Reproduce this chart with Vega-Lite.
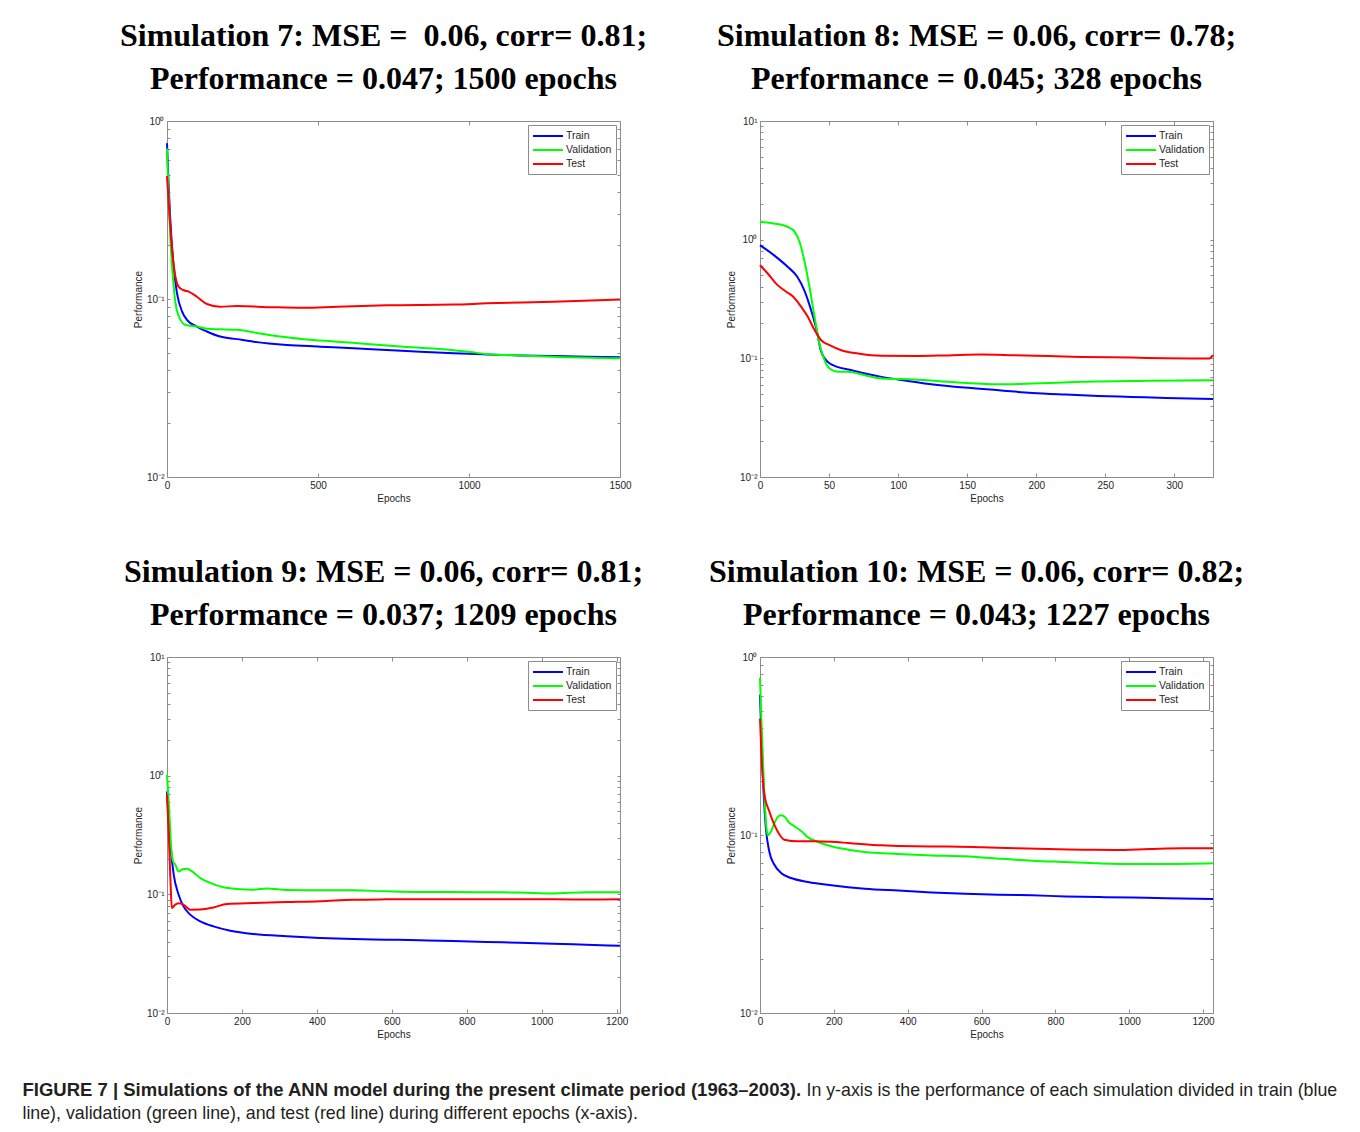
{
  "$schema": "https://vega.github.io/schema/vega-lite/v6.json",
  "padding": {"left": 22, "top": 19, "right": 10, "bottom": 5},
  "background": "white",
  "config": {
    "view": {"stroke": "#8c8c8c", "strokeWidth": 1},
    "axis": {
      "labelFont": "Liberation Sans", "titleFont": "Liberation Sans",
      "labelFontSize": 10, "titleFontSize": 10, "titleFontWeight": "normal",
      "labelColor": "#262626", "titleColor": "#262626", "tickColor": "#8c8c8c",
      "grid": false, "domain": false, "labelFlush": false, "labelOverlap": false
    },
    "title": {
      "font": "Liberation Serif", "fontSize": 32, "fontWeight": "bold", "color": "#000000",
      "lineHeight": 43, "anchor": "middle", "dx": -10, "offset": 20
    }
  },
  "datasets": {
    "s7": [
      {"epoch":0,"value":0.75,"series":"Train"},{"epoch":5,"value":0.45,"series":"Train"},{"epoch":11,"value":0.278,"series":"Train"},{"epoch":22,"value":0.152,"series":"Train"},{"epoch":33,"value":0.108,"series":"Train"},{"epoch":50,"value":0.085,"series":"Train"},{"epoch":66,"value":0.0764,"series":"Train"},{"epoch":99,"value":0.07,"series":"Train"},{"epoch":132,"value":0.0657,"series":"Train"},{"epoch":176,"value":0.0615,"series":"Train"},{"epoch":232,"value":0.0595,"series":"Train"},{"epoch":287,"value":0.0576,"series":"Train"},{"epoch":397,"value":0.0552,"series":"Train"},{"epoch":507,"value":0.054,"series":"Train"},{"epoch":618,"value":0.0528,"series":"Train"},{"epoch":728,"value":0.0517,"series":"Train"},{"epoch":838,"value":0.0506,"series":"Train"},{"epoch":949,"value":0.0495,"series":"Train"},{"epoch":1059,"value":0.0488,"series":"Train"},{"epoch":1169,"value":0.0482,"series":"Train"},{"epoch":1279,"value":0.0478,"series":"Train"},{"epoch":1390,"value":0.0474,"series":"Train"},{"epoch":1500,"value":0.047,"series":"Train"},
      {"epoch":0,"value":0.7,"series":"Validation"},{"epoch":5,"value":0.4,"series":"Validation"},{"epoch":11,"value":0.22,"series":"Validation"},{"epoch":20,"value":0.13,"series":"Validation"},{"epoch":28,"value":0.095,"series":"Validation"},{"epoch":39,"value":0.08,"series":"Validation"},{"epoch":61,"value":0.0715,"series":"Validation"},{"epoch":99,"value":0.07,"series":"Validation"},{"epoch":132,"value":0.068,"series":"Validation"},{"epoch":176,"value":0.0676,"series":"Validation"},{"epoch":232,"value":0.0671,"series":"Validation"},{"epoch":309,"value":0.064,"series":"Validation"},{"epoch":375,"value":0.0615,"series":"Validation"},{"epoch":452,"value":0.0595,"series":"Validation"},{"epoch":563,"value":0.0576,"series":"Validation"},{"epoch":673,"value":0.0557,"series":"Validation"},{"epoch":783,"value":0.054,"series":"Validation"},{"epoch":893,"value":0.0525,"series":"Validation"},{"epoch":1004,"value":0.0504,"series":"Validation"},{"epoch":1059,"value":0.049,"series":"Validation"},{"epoch":1169,"value":0.0482,"series":"Validation"},{"epoch":1279,"value":0.0474,"series":"Validation"},{"epoch":1500,"value":0.0464,"series":"Validation"},
      {"epoch":0,"value":0.49,"series":"Test"},{"epoch":8,"value":0.3,"series":"Test"},{"epoch":17,"value":0.188,"series":"Test"},{"epoch":28,"value":0.133,"series":"Test"},{"epoch":39,"value":0.117,"series":"Test"},{"epoch":55,"value":0.112,"series":"Test"},{"epoch":72,"value":0.11,"series":"Test"},{"epoch":99,"value":0.103,"series":"Test"},{"epoch":132,"value":0.0938,"series":"Test"},{"epoch":176,"value":0.0906,"series":"Test"},{"epoch":232,"value":0.0912,"series":"Test"},{"epoch":342,"value":0.09,"series":"Test"},{"epoch":452,"value":0.0892,"series":"Test"},{"epoch":563,"value":0.0906,"series":"Test"},{"epoch":728,"value":0.0922,"series":"Test"},{"epoch":949,"value":0.093,"series":"Test"},{"epoch":1059,"value":0.0945,"series":"Test"},{"epoch":1279,"value":0.0965,"series":"Test"},{"epoch":1500,"value":0.0995,"series":"Test"}
    ],
    "s8": [
      {"epoch":0,"value":0.9,"series":"Train"},{"epoch":10,"value":0.741,"series":"Train"},{"epoch":20,"value":0.591,"series":"Train"},{"epoch":27,"value":0.487,"series":"Train"},{"epoch":32,"value":0.376,"series":"Train"},{"epoch":37,"value":0.255,"series":"Train"},{"epoch":41,"value":0.173,"series":"Train"},{"epoch":44,"value":0.117,"series":"Train"},{"epoch":49,"value":0.0934,"series":"Train"},{"epoch":56,"value":0.0847,"series":"Train"},{"epoch":64,"value":0.0805,"series":"Train"},{"epoch":76,"value":0.0745,"series":"Train"},{"epoch":88,"value":0.0698,"series":"Train"},{"epoch":100,"value":0.0663,"series":"Train"},{"epoch":124,"value":0.0605,"series":"Train"},{"epoch":148,"value":0.0567,"series":"Train"},{"epoch":173,"value":0.0538,"series":"Train"},{"epoch":197,"value":0.0511,"series":"Train"},{"epoch":221,"value":0.0495,"series":"Train"},{"epoch":245,"value":0.0482,"series":"Train"},{"epoch":269,"value":0.0473,"series":"Train"},{"epoch":294,"value":0.0464,"series":"Train"},{"epoch":328,"value":0.0455,"series":"Train"},
      {"epoch":0,"value":1.415,"series":"Validation"},{"epoch":10,"value":1.37,"series":"Validation"},{"epoch":20,"value":1.285,"series":"Validation"},{"epoch":25,"value":1.17,"series":"Validation"},{"epoch":28.6,"value":0.96,"series":"Validation"},{"epoch":32,"value":0.673,"series":"Validation"},{"epoch":35.8,"value":0.401,"series":"Validation"},{"epoch":39.5,"value":0.224,"series":"Validation"},{"epoch":43,"value":0.133,"series":"Validation"},{"epoch":46.7,"value":0.0964,"series":"Validation"},{"epoch":50.4,"value":0.082,"series":"Validation"},{"epoch":56.4,"value":0.0769,"series":"Validation"},{"epoch":63.7,"value":0.0769,"series":"Validation"},{"epoch":75.8,"value":0.0721,"series":"Validation"},{"epoch":88,"value":0.0676,"series":"Validation"},{"epoch":112,"value":0.0663,"series":"Validation"},{"epoch":136,"value":0.0634,"series":"Validation"},{"epoch":173,"value":0.0605,"series":"Validation"},{"epoch":197,"value":0.0613,"series":"Validation"},{"epoch":233,"value":0.0634,"series":"Validation"},{"epoch":282,"value":0.0646,"series":"Validation"},{"epoch":328,"value":0.0654,"series":"Validation"},
      {"epoch":0,"value":0.61,"series":"Test"},{"epoch":5.6,"value":0.519,"series":"Test"},{"epoch":12.8,"value":0.414,"series":"Test"},{"epoch":19,"value":0.364,"series":"Test"},{"epoch":23.7,"value":0.334,"series":"Test"},{"epoch":29.8,"value":0.272,"series":"Test"},{"epoch":34.6,"value":0.224,"series":"Test"},{"epoch":39.5,"value":0.173,"series":"Test"},{"epoch":44.3,"value":0.142,"series":"Test"},{"epoch":50.4,"value":0.129,"series":"Test"},{"epoch":58.8,"value":0.117,"series":"Test"},{"epoch":71,"value":0.1097,"series":"Test"},{"epoch":88,"value":0.105,"series":"Test"},{"epoch":112,"value":0.1046,"series":"Test"},{"epoch":136,"value":0.1059,"series":"Test"},{"epoch":160,"value":0.1076,"series":"Test"},{"epoch":185,"value":0.106,"series":"Test"},{"epoch":209,"value":0.1046,"series":"Test"},{"epoch":233,"value":0.1027,"series":"Test"},{"epoch":269,"value":0.1014,"series":"Test"},{"epoch":294,"value":0.1001,"series":"Test"},{"epoch":325,"value":0.0995,"series":"Test"},{"epoch":328,"value":0.1065,"series":"Test"}
    ],
    "s9": [
      {"epoch":0,"value":0.738,"series":"Train"},{"epoch":4,"value":0.44,"series":"Train"},{"epoch":9,"value":0.262,"series":"Train"},{"epoch":18,"value":0.146,"series":"Train"},{"epoch":31,"value":0.0993,"series":"Train"},{"epoch":44,"value":0.0792,"series":"Train"},{"epoch":62,"value":0.0674,"series":"Train"},{"epoch":89,"value":0.0592,"series":"Train"},{"epoch":124,"value":0.0537,"series":"Train"},{"epoch":169,"value":0.0494,"series":"Train"},{"epoch":231,"value":0.0463,"series":"Train"},{"epoch":320,"value":0.0443,"series":"Train"},{"epoch":408,"value":0.0429,"series":"Train"},{"epoch":497,"value":0.042,"series":"Train"},{"epoch":586,"value":0.0415,"series":"Train"},{"epoch":675,"value":0.041,"series":"Train"},{"epoch":763,"value":0.0404,"series":"Train"},{"epoch":852,"value":0.0397,"series":"Train"},{"epoch":941,"value":0.0391,"series":"Train"},{"epoch":1030,"value":0.0384,"series":"Train"},{"epoch":1119,"value":0.0376,"series":"Train"},{"epoch":1209,"value":0.0369,"series":"Train"},
      {"epoch":0,"value":1.02,"series":"Validation"},{"epoch":6,"value":0.5,"series":"Validation"},{"epoch":10.6,"value":0.262,"series":"Validation"},{"epoch":16,"value":0.19,"series":"Validation"},{"epoch":22,"value":0.178,"series":"Validation"},{"epoch":31,"value":0.156,"series":"Validation"},{"epoch":40,"value":0.162,"series":"Validation"},{"epoch":53,"value":0.164,"series":"Validation"},{"epoch":67,"value":0.156,"series":"Validation"},{"epoch":89,"value":0.137,"series":"Validation"},{"epoch":115,"value":0.125,"series":"Validation"},{"epoch":151,"value":0.1146,"series":"Validation"},{"epoch":186,"value":0.111,"series":"Validation"},{"epoch":231,"value":0.1095,"series":"Validation"},{"epoch":266,"value":0.112,"series":"Validation"},{"epoch":320,"value":0.1088,"series":"Validation"},{"epoch":408,"value":0.1081,"series":"Validation"},{"epoch":497,"value":0.1081,"series":"Validation"},{"epoch":586,"value":0.106,"series":"Validation"},{"epoch":675,"value":0.1047,"series":"Validation"},{"epoch":763,"value":0.1047,"series":"Validation"},{"epoch":852,"value":0.1041,"series":"Validation"},{"epoch":941,"value":0.1035,"series":"Validation"},{"epoch":1030,"value":0.1018,"series":"Validation"},{"epoch":1119,"value":0.104,"series":"Validation"},{"epoch":1209,"value":0.104,"series":"Validation"},
      {"epoch":0,"value":0.69,"series":"Test"},{"epoch":4,"value":0.362,"series":"Test"},{"epoch":9,"value":0.137,"series":"Test"},{"epoch":13,"value":0.0767,"series":"Test"},{"epoch":22,"value":0.0818,"series":"Test"},{"epoch":31,"value":0.0842,"series":"Test"},{"epoch":44,"value":0.082,"series":"Test"},{"epoch":62,"value":0.0743,"series":"Test"},{"epoch":89,"value":0.0745,"series":"Test"},{"epoch":124,"value":0.0776,"series":"Test"},{"epoch":160,"value":0.083,"series":"Test"},{"epoch":231,"value":0.0846,"series":"Test"},{"epoch":320,"value":0.086,"series":"Test"},{"epoch":408,"value":0.0873,"series":"Test"},{"epoch":497,"value":0.0901,"series":"Test"},{"epoch":586,"value":0.0907,"series":"Test"},{"epoch":675,"value":0.091,"series":"Test"},{"epoch":763,"value":0.091,"series":"Test"},{"epoch":852,"value":0.091,"series":"Test"},{"epoch":941,"value":0.0907,"series":"Test"},{"epoch":1030,"value":0.0907,"series":"Test"},{"epoch":1119,"value":0.0904,"series":"Test"},{"epoch":1209,"value":0.0907,"series":"Test"}
    ],
    "s10": [
      {"epoch":0,"value":0.614,"series":"Train"},{"epoch":4.5,"value":0.322,"series":"Train"},{"epoch":10,"value":0.169,"series":"Train"},{"epoch":16,"value":0.109,"series":"Train"},{"epoch":25,"value":0.081,"series":"Train"},{"epoch":39,"value":0.068,"series":"Train"},{"epoch":57,"value":0.0612,"series":"Train"},{"epoch":84,"value":0.0573,"series":"Train"},{"epoch":130,"value":0.0545,"series":"Train"},{"epoch":193,"value":0.0522,"series":"Train"},{"epoch":284,"value":0.0499,"series":"Train"},{"epoch":375,"value":0.0487,"series":"Train"},{"epoch":465,"value":0.0476,"series":"Train"},{"epoch":556,"value":0.0468,"series":"Train"},{"epoch":647,"value":0.0462,"series":"Train"},{"epoch":737,"value":0.0458,"series":"Train"},{"epoch":828,"value":0.0452,"series":"Train"},{"epoch":919,"value":0.0448,"series":"Train"},{"epoch":1009,"value":0.0445,"series":"Train"},{"epoch":1100,"value":0.0441,"series":"Train"},{"epoch":1227,"value":0.0437,"series":"Train"},
      {"epoch":0,"value":0.762,"series":"Validation"},{"epoch":4.5,"value":0.399,"series":"Validation"},{"epoch":10,"value":0.209,"series":"Validation"},{"epoch":16,"value":0.119,"series":"Validation"},{"epoch":21,"value":0.0996,"series":"Validation"},{"epoch":30,"value":0.105,"series":"Validation"},{"epoch":39,"value":0.1167,"series":"Validation"},{"epoch":48,"value":0.126,"series":"Validation"},{"epoch":57,"value":0.129,"series":"Validation"},{"epoch":66,"value":0.127,"series":"Validation"},{"epoch":80,"value":0.1167,"series":"Validation"},{"epoch":93,"value":0.112,"series":"Validation"},{"epoch":112,"value":0.105,"series":"Validation"},{"epoch":130,"value":0.097,"series":"Validation"},{"epoch":157,"value":0.0914,"series":"Validation"},{"epoch":193,"value":0.0864,"series":"Validation"},{"epoch":239,"value":0.0827,"series":"Validation"},{"epoch":284,"value":0.0802,"series":"Validation"},{"epoch":375,"value":0.0782,"series":"Validation"},{"epoch":465,"value":0.0768,"series":"Validation"},{"epoch":556,"value":0.0759,"series":"Validation"},{"epoch":647,"value":0.0736,"series":"Validation"},{"epoch":737,"value":0.0717,"series":"Validation"},{"epoch":828,"value":0.0705,"series":"Validation"},{"epoch":919,"value":0.0693,"series":"Validation"},{"epoch":1009,"value":0.0687,"series":"Validation"},{"epoch":1100,"value":0.0687,"series":"Validation"},{"epoch":1227,"value":0.0693,"series":"Validation"},
      {"epoch":0,"value":0.45,"series":"Test"},{"epoch":5,"value":0.25,"series":"Test"},{"epoch":12,"value":0.168,"series":"Test"},{"epoch":25,"value":0.136,"series":"Test"},{"epoch":39,"value":0.114,"series":"Test"},{"epoch":53,"value":0.1004,"series":"Test"},{"epoch":66,"value":0.094,"series":"Test"},{"epoch":102,"value":0.0921,"series":"Test"},{"epoch":148,"value":0.0921,"series":"Test"},{"epoch":193,"value":0.0915,"series":"Test"},{"epoch":239,"value":0.0902,"series":"Test"},{"epoch":329,"value":0.0875,"series":"Test"},{"epoch":420,"value":0.0864,"series":"Test"},{"epoch":510,"value":0.0862,"series":"Test"},{"epoch":601,"value":0.0853,"series":"Test"},{"epoch":692,"value":0.0842,"series":"Test"},{"epoch":783,"value":0.0834,"series":"Test"},{"epoch":873,"value":0.0827,"series":"Test"},{"epoch":964,"value":0.0824,"series":"Test"},{"epoch":1055,"value":0.0834,"series":"Test"},{"epoch":1146,"value":0.0842,"series":"Test"},{"epoch":1227,"value":0.0842,"series":"Test"}
    ]
  },
  "title": {
    "text": "FIGURE 7 | Simulations of the ANN model during the present climate period (1963–2003).",
    "subtitle": "line), validation (green line), and test (red line) during different epochs (x-axis).",
    "orient": "bottom", "anchor": "start", "frame": "bounds",
    "font": "Liberation Sans", "fontSize": 18.5, "fontWeight": "bold", "color": "#231f20",
    "subtitleFont": "Liberation Sans", "subtitleFontSize": 17.8, "subtitleFontWeight": "normal", "subtitleColor": "#231f20",
    "subtitlePadding": 5.5, "dx": -97, "offset": -18, "lineHeight": 18.5
  },
  "vconcat": [
    {
      "columns": 2,
      "bounds": "flush",
      "spacing": {"row": 180, "column": 140},
      "resolve": {"scale": {"color": "independent"}, "legend": {"color": "independent"}},
      "title": {
        "text": "In y-axis is the performance of each simulation divided in train (blue",
        "orient": "bottom", "anchor": "start", "frame": "bounds",
        "font": "Liberation Sans", "fontSize": 17.8, "fontWeight": "normal", "color": "#231f20",
        "dx": 687, "offset": 42, "lineHeight": 17.8
      },
      "concat": [
        {
          "data": {"name": "s7"},
          "width": 453, "height": 356,
          "title": {"text": ["Simulation 7: MSE =\u00a0 0.06, corr= 0.81;", "Performance = 0.047; 1500 epochs"]},
          "encoding": {
            "color": {"field": "series", "type": "nominal", "scale": {"domain": ["Train", "Validation", "Test"], "range": ["#0000ff", "#00ff00", "#ff0000"]},
              "legend": {"title": null, "orient": "top-right", "offset": 4, "fillColor": "white", "strokeColor": "#8c8c8c", "padding": 4, "rowPadding": 1, "symbolType": "M-1,0H4", "symbolSize": 144, "symbolStrokeWidth": 2, "labelFont": "Liberation Sans", "labelFontSize": 10.5, "labelColor": "#262626", "labelOffset": 20}}
          },
          "layer": [
            {"transform": [{"filter": "datum.series != 'Test'"}], "mark": {"type": "line", "strokeWidth": 2, "interpolate": "monotone"},
             "encoding": {
               "x": {"field": "epoch", "type": "quantitative", "scale": {"domain": [0, 1500], "nice": false, "zero": false}, "axis": {"orient": "bottom", "values": [0, 500, 1000, 1500], "format": "d", "title": "Epochs", "tickSize": -4, "labelPadding": 7, "titlePadding": 3}},
               "y": {"field": "value", "type": "quantitative", "scale": {"type": "log", "domain": [0.01, 1], "nice": false}, "axis": {"orient": "left", "values": [0.01,0.02,0.03,0.04,0.05,0.06,0.07,0.08,0.09,0.1,0.2,0.3,0.4,0.5,0.6,0.7,0.8,0.9,1], "labelExpr": "abs(datum.value-10)<1e-9 ? '10¹' : abs(datum.value-1)<1e-9 ? '10⁰' : abs(datum.value-0.1)<1e-9 ? '10⁻¹' : abs(datum.value-0.01)<1e-9 ? '10⁻²' : ''", "title": "Performance", "tickSize": -3, "labelPadding": 6, "titlePadding": 3}}
             }},
            {"transform": [{"filter": "datum.series == 'Test'"}], "mark": {"type": "line", "strokeWidth": 2, "interpolate": "monotone"},
             "encoding": {
               "x": {"field": "epoch", "type": "quantitative", "scale": {"domain": [0, 1500], "nice": false, "zero": false}, "axis": {"orient": "top", "values": [0, 500, 1000, 1500], "title": null, "labels": false, "tickSize": -4}},
               "y": {"field": "value", "type": "quantitative", "scale": {"type": "log", "domain": [0.01, 1], "nice": false}, "axis": {"orient": "right", "values": [0.01,0.02,0.03,0.04,0.05,0.06,0.07,0.08,0.09,0.1,0.2,0.3,0.4,0.5,0.6,0.7,0.8,0.9,1], "title": null, "labels": false, "tickSize": -3}}
             }}
          ],
          "resolve": {"axis": {"x": "independent", "y": "independent"}}
        },
        {
          "data": {"name": "s8"},
          "width": 453, "height": 356,
          "title": {"text": ["Simulation 8: MSE = 0.06, corr= 0.78;", "Performance = 0.045; 328 epochs"]},
          "encoding": {
            "color": {"field": "series", "type": "nominal", "scale": {"domain": ["Train", "Validation", "Test"], "range": ["#0000ff", "#00ff00", "#ff0000"]},
              "legend": {"title": null, "orient": "top-right", "offset": 4, "fillColor": "white", "strokeColor": "#8c8c8c", "padding": 4, "rowPadding": 1, "symbolType": "M-1,0H4", "symbolSize": 144, "symbolStrokeWidth": 2, "labelFont": "Liberation Sans", "labelFontSize": 10.5, "labelColor": "#262626", "labelOffset": 20}}
          },
          "layer": [
            {"transform": [{"filter": "datum.series != 'Test'"}], "mark": {"type": "line", "strokeWidth": 2, "interpolate": "monotone"},
             "encoding": {
               "x": {"field": "epoch", "type": "quantitative", "scale": {"domain": [0, 328], "nice": false, "zero": false}, "axis": {"orient": "bottom", "values": [0, 50, 100, 150, 200, 250, 300], "format": "d", "title": "Epochs", "tickSize": -4, "labelPadding": 7, "titlePadding": 3}},
               "y": {"field": "value", "type": "quantitative", "scale": {"type": "log", "domain": [0.01, 10], "nice": false}, "axis": {"orient": "left", "values": [0.01,0.02,0.03,0.04,0.05,0.06,0.07,0.08,0.09,0.1,0.2,0.3,0.4,0.5,0.6,0.7,0.8,0.9,1,2,3,4,5,6,7,8,9,10], "labelExpr": "abs(datum.value-10)<1e-9 ? '10¹' : abs(datum.value-1)<1e-9 ? '10⁰' : abs(datum.value-0.1)<1e-9 ? '10⁻¹' : abs(datum.value-0.01)<1e-9 ? '10⁻²' : ''", "title": "Performance", "tickSize": -3, "labelPadding": 6, "titlePadding": 3}}
             }},
            {"transform": [{"filter": "datum.series == 'Test'"}], "mark": {"type": "line", "strokeWidth": 2, "interpolate": "monotone"},
             "encoding": {
               "x": {"field": "epoch", "type": "quantitative", "scale": {"domain": [0, 328], "nice": false, "zero": false}, "axis": {"orient": "top", "values": [0, 50, 100, 150, 200, 250, 300], "title": null, "labels": false, "tickSize": -4}},
               "y": {"field": "value", "type": "quantitative", "scale": {"type": "log", "domain": [0.01, 10], "nice": false}, "axis": {"orient": "right", "values": [0.01,0.02,0.03,0.04,0.05,0.06,0.07,0.08,0.09,0.1,0.2,0.3,0.4,0.5,0.6,0.7,0.8,0.9,1,2,3,4,5,6,7,8,9,10], "title": null, "labels": false, "tickSize": -3}}
             }}
          ],
          "resolve": {"axis": {"x": "independent", "y": "independent"}}
        },
        {
          "data": {"name": "s9"},
          "width": 453, "height": 356,
          "title": {"text": ["Simulation 9: MSE = 0.06, corr= 0.81;", "Performance = 0.037; 1209 epochs"]},
          "encoding": {
            "color": {"field": "series", "type": "nominal", "scale": {"domain": ["Train", "Validation", "Test"], "range": ["#0000ff", "#00ff00", "#ff0000"]},
              "legend": {"title": null, "orient": "top-right", "offset": 4, "fillColor": "white", "strokeColor": "#8c8c8c", "padding": 4, "rowPadding": 1, "symbolType": "M-1,0H4", "symbolSize": 144, "symbolStrokeWidth": 2, "labelFont": "Liberation Sans", "labelFontSize": 10.5, "labelColor": "#262626", "labelOffset": 20}}
          },
          "layer": [
            {"transform": [{"filter": "datum.series != 'Test'"}], "mark": {"type": "line", "strokeWidth": 2, "interpolate": "monotone"},
             "encoding": {
               "x": {"field": "epoch", "type": "quantitative", "scale": {"domain": [0, 1209], "nice": false, "zero": false}, "axis": {"orient": "bottom", "values": [0, 200, 400, 600, 800, 1000, 1200], "format": "d", "title": "Epochs", "tickSize": -4, "labelPadding": 7, "titlePadding": 3}},
               "y": {"field": "value", "type": "quantitative", "scale": {"type": "log", "domain": [0.01, 10], "nice": false}, "axis": {"orient": "left", "values": [0.01,0.02,0.03,0.04,0.05,0.06,0.07,0.08,0.09,0.1,0.2,0.3,0.4,0.5,0.6,0.7,0.8,0.9,1,2,3,4,5,6,7,8,9,10], "labelExpr": "abs(datum.value-10)<1e-9 ? '10¹' : abs(datum.value-1)<1e-9 ? '10⁰' : abs(datum.value-0.1)<1e-9 ? '10⁻¹' : abs(datum.value-0.01)<1e-9 ? '10⁻²' : ''", "title": "Performance", "tickSize": -3, "labelPadding": 6, "titlePadding": 3}}
             }},
            {"transform": [{"filter": "datum.series == 'Test'"}], "mark": {"type": "line", "strokeWidth": 2, "interpolate": "monotone"},
             "encoding": {
               "x": {"field": "epoch", "type": "quantitative", "scale": {"domain": [0, 1209], "nice": false, "zero": false}, "axis": {"orient": "top", "values": [0, 200, 400, 600, 800, 1000, 1200], "title": null, "labels": false, "tickSize": -4}},
               "y": {"field": "value", "type": "quantitative", "scale": {"type": "log", "domain": [0.01, 10], "nice": false}, "axis": {"orient": "right", "values": [0.01,0.02,0.03,0.04,0.05,0.06,0.07,0.08,0.09,0.1,0.2,0.3,0.4,0.5,0.6,0.7,0.8,0.9,1,2,3,4,5,6,7,8,9,10], "title": null, "labels": false, "tickSize": -3}}
             }}
          ],
          "resolve": {"axis": {"x": "independent", "y": "independent"}}
        },
        {
          "data": {"name": "s10"},
          "width": 453, "height": 356,
          "title": {"text": ["Simulation 10: MSE = 0.06, corr= 0.82;", "Performance = 0.043; 1227 epochs"]},
          "encoding": {
            "color": {"field": "series", "type": "nominal", "scale": {"domain": ["Train", "Validation", "Test"], "range": ["#0000ff", "#00ff00", "#ff0000"]},
              "legend": {"title": null, "orient": "top-right", "offset": 4, "fillColor": "white", "strokeColor": "#8c8c8c", "padding": 4, "rowPadding": 1, "symbolType": "M-1,0H4", "symbolSize": 144, "symbolStrokeWidth": 2, "labelFont": "Liberation Sans", "labelFontSize": 10.5, "labelColor": "#262626", "labelOffset": 20}}
          },
          "layer": [
            {"transform": [{"filter": "datum.series != 'Test'"}], "mark": {"type": "line", "strokeWidth": 2, "interpolate": "monotone"},
             "encoding": {
               "x": {"field": "epoch", "type": "quantitative", "scale": {"domain": [0, 1227], "nice": false, "zero": false}, "axis": {"orient": "bottom", "values": [0, 200, 400, 600, 800, 1000, 1200], "format": "d", "title": "Epochs", "tickSize": -4, "labelPadding": 7, "titlePadding": 3}},
               "y": {"field": "value", "type": "quantitative", "scale": {"type": "log", "domain": [0.01, 1], "nice": false}, "axis": {"orient": "left", "values": [0.01,0.02,0.03,0.04,0.05,0.06,0.07,0.08,0.09,0.1,0.2,0.3,0.4,0.5,0.6,0.7,0.8,0.9,1], "labelExpr": "abs(datum.value-10)<1e-9 ? '10¹' : abs(datum.value-1)<1e-9 ? '10⁰' : abs(datum.value-0.1)<1e-9 ? '10⁻¹' : abs(datum.value-0.01)<1e-9 ? '10⁻²' : ''", "title": "Performance", "tickSize": -3, "labelPadding": 6, "titlePadding": 3}}
             }},
            {"transform": [{"filter": "datum.series == 'Test'"}], "mark": {"type": "line", "strokeWidth": 2, "interpolate": "monotone"},
             "encoding": {
               "x": {"field": "epoch", "type": "quantitative", "scale": {"domain": [0, 1227], "nice": false, "zero": false}, "axis": {"orient": "top", "values": [0, 200, 400, 600, 800, 1000, 1200], "title": null, "labels": false, "tickSize": -4}},
               "y": {"field": "value", "type": "quantitative", "scale": {"type": "log", "domain": [0.01, 1], "nice": false}, "axis": {"orient": "right", "values": [0.01,0.02,0.03,0.04,0.05,0.06,0.07,0.08,0.09,0.1,0.2,0.3,0.4,0.5,0.6,0.7,0.8,0.9,1], "title": null, "labels": false, "tickSize": -3}}
             }}
          ],
          "resolve": {"axis": {"x": "independent", "y": "independent"}}
        }
      ]
    }
  ],
  "resolve": {"scale": {"color": "independent"}, "legend": {"color": "independent"}}
}
